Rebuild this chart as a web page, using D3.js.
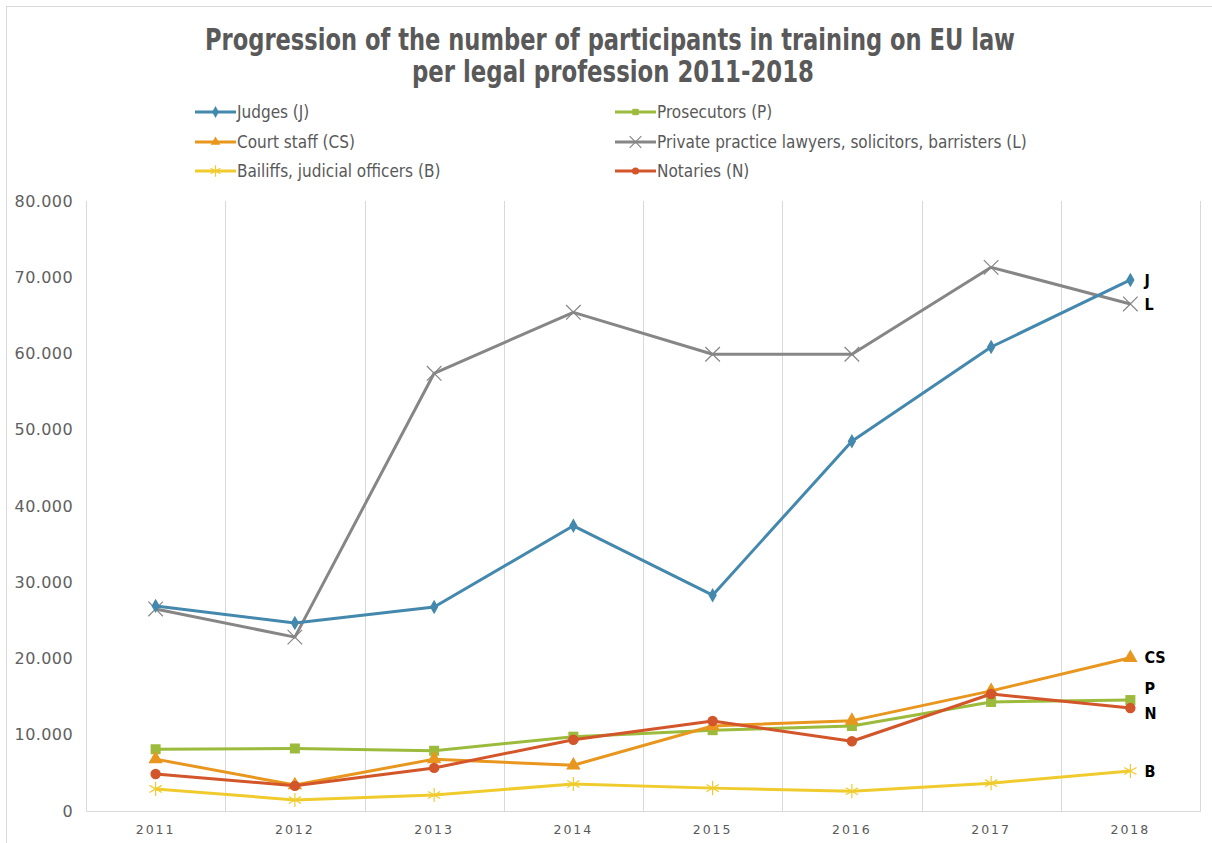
<!DOCTYPE html>
<html>
<head>
<meta charset="utf-8">
<script src="https://cdn.jsdelivr.net/npm/d3@7"></script>
<style>
  body { margin: 0; background: #fff; }
  svg { display: block; }
</style>
</head>
<body>
<svg id="chart" width="1212" height="843"></svg>
<script>
const years = ["2011", "2012", "2013", "2014", "2015", "2016", "2017", "2018"];

const judges      = [26900, 24650, 26750, 37400, 28300, 48500, 60850, 69650];
const prosecutors = [8100, 8200, 7900, 9750, 10600, 11150, 14300, 14550];
const courtStaff  = [6800, 3400, 6800, 6000, 11150, 11850, 15750, 20100];
const lawyers     = [26500, 22800, 57400, 65400, 59900, 59900, 71300, 66500];
const bailiffs    = [2900, 1450, 2100, 3550, 3000, 2600, 3650, 5250];
const notaries    = [4850, 3300, 5650, 9350, 11800, 9150, 15350, 13500];

const yTicks = [0, 10000, 20000, 30000, 40000, 50000, 60000, 70000, 80000];

const series = [
  { name: "Judges (J)", short: "J", values: judges, color: "#4488ad", marker: "diamond", dy: 0 },
  { name: "Prosecutors (P)", short: "P", values: prosecutors, color: "#9cbb3c", marker: "square", dy: -12 },
  { name: "Court staff (CS)", short: "CS", values: courtStaff, color: "#e8961e", marker: "triangle", dy: 0 },
  { name: "Private practice lawyers, solicitors, barristers (L)", short: "L", values: lawyers, color: "#868686", marker: "cross", dy: 0 },
  { name: "Bailiffs, judicial officers (B)", short: "B", values: bailiffs, color: "#f0cb2e", marker: "star", dy: 0 },
  { name: "Notaries (N)", short: "N", values: notaries, color: "#d3552a", marker: "circle", dy: 5 }
];

const svg = d3.select("#chart");
const margin = { left: 86, right: 1200, top: 201, bottom: 811 };
const grey = "#595959";
const sans = "'DejaVu Sans', Verdana, sans-serif";

// outer frame
svg.append("rect")
  .attr("x", 6.5).attr("y", 6.5)
  .attr("width", 1300).attr("height", 900)
  .attr("fill", "none").attr("stroke", "#d9d9d9");

const x = d3.scaleBand().domain(years).range([margin.left, margin.right]);
const y = d3.scaleLinear().domain([0, 80000]).range([margin.bottom, margin.top]);

// title (condensed to the original's width)
const title = svg.append("g").attr("font-family", sans).attr("font-weight", "bold")
  .attr("font-stretch", "condensed")
  .attr("fill", grey).attr("text-anchor", "middle");
title.append("text").attr("x", 610).attr("y", 50).attr("font-size", 30)
  .attr("textLength", 810).attr("lengthAdjust", "spacingAndGlyphs")
  .text("Progression of the number of participants in training on EU law");
title.append("text").attr("x", 613).attr("y", 82).attr("font-size", 30)
  .attr("textLength", 402).attr("lengthAdjust", "spacingAndGlyphs")
  .text("per legal profession 2011-2018");

// vertical gridlines at category boundaries
svg.append("g")
  .selectAll("line")
  .data(years.slice(1))
  .join("line")
  .attr("x1", d => Math.round(x(d)) + 0.5)
  .attr("x2", d => Math.round(x(d)) + 0.5)
  .attr("y1", margin.top).attr("y2", margin.bottom)
  .attr("stroke", "#d9d9d9");

// plot frame: left, bottom, right
svg.append("path")
  .attr("d", `M${margin.left + 0.5},${margin.top}V${margin.bottom + 0.5}H${margin.right + 0.5}V${margin.top}`)
  .attr("fill", "none").attr("stroke", "#d9d9d9");

// y axis
const yAxis = d3.axisLeft(y)
  .tickValues(yTicks)
  .tickSize(0)
  .tickPadding(13)
  .tickFormat(d => d3.format(",")(d).replace(/,/g, "."));
svg.append("g")
  .attr("transform", `translate(${margin.left},0)`)
  .call(yAxis)
  .call(g => g.select(".domain").remove())
  .call(g => g.selectAll("text")
    .attr("font-family", sans)
    .attr("font-size", 16).attr("letter-spacing", 0.4).attr("fill", "#606060"));

// x axis
const xAxis = d3.axisBottom(x).tickSize(0).tickPadding(14);
svg.append("g")
  .attr("transform", `translate(0,${margin.bottom})`)
  .call(xAxis)
  .call(g => g.select(".domain").remove())
  .call(g => g.selectAll("text")
    .attr("font-family", sans)
    .attr("font-size", 12.5).attr("letter-spacing", 2).attr("fill", grey));

const cx = d => x(d) + x.bandwidth() / 2;

const symbolType = {
  diamond: d3.symbolDiamond, square: d3.symbolSquare, triangle: d3.symbolTriangle,
  circle: d3.symbolCircle, cross: d3.symbolX, star: d3.symbolAsterisk
};
const symbolSize = { diamond: 60, square: 100, triangle: 90, circle: 85, cross: 140, star: 140 };

const line = d3.line()
  .x((d, i) => cx(years[i]))
  .y(d => y(d));

// draw order: lawyers under judges, notaries on top
const drawOrder = [4, 3, 0, 1, 2, 5];
const layers = svg.append("g");
drawOrder.forEach(k => {
  const s = series[k];
  const g = layers.append("g");
  g.append("path")
    .attr("d", line(s.values))
    .attr("fill", "none")
    .attr("stroke", s.color)
    .attr("stroke-width", 3)
    .attr("stroke-linejoin", "round");
  const stroked = s.marker === "cross" || s.marker === "star";
  g.selectAll("path.m")
    .data(s.values)
    .join("path")
    .attr("class", "m")
    .attr("transform", (d, i) => `translate(${cx(years[i])},${y(d)})`)
    .attr("d", d3.symbol().type(symbolType[s.marker]).size(symbolSize[s.marker])())
    .attr("fill", stroked ? "none" : s.color)
    .attr("stroke", s.color)
    .attr("stroke-width", stroked ? 1.2 : 0);
});

// end labels
svg.append("g")
  .selectAll("text")
  .data(series)
  .join("text")
  .attr("x", cx(years[7]) + 14)
  .attr("y", d => y(d.values[7]) + d.dy)
  .attr("dy", "0.35em")
  .attr("font-family", sans)
  .attr("font-stretch", "condensed")
  .attr("font-weight", "bold")
  .attr("font-size", 16)
  .attr("fill", "#000")
  .text(d => d.short);

// legend
const legendPos = [
  [195, 112], [615, 112],
  [195, 142], [615, 142],
  [195, 171], [615, 171]
];
const legend = svg.append("g");
series.forEach((s, i) => {
  const [lx, ly] = legendPos[i];
  const g = legend.append("g").attr("transform", `translate(${lx},${ly})`);
  g.append("line").attr("x1", 0).attr("x2", 41).attr("y1", 0).attr("y2", 0)
    .attr("stroke", s.color).attr("stroke-width", 3);
  const stroked = s.marker === "cross" || s.marker === "star";
  g.append("path")
    .attr("transform", "translate(20.5,0)")
    .attr("d", d3.symbol().type(symbolType[s.marker]).size(stroked ? 90 : 40)())
    .attr("fill", stroked ? "none" : s.color)
    .attr("stroke", s.color)
    .attr("stroke-width", stroked ? 1.2 : 0);
  g.append("text")
    .attr("x", 42).attr("dy", "0.35em")
    .attr("font-family", sans)
    .attr("font-stretch", "condensed")
    .attr("font-size", 17)
    .attr("fill", grey)
    .text(s.name);
});
</script>
</body>
</html>
